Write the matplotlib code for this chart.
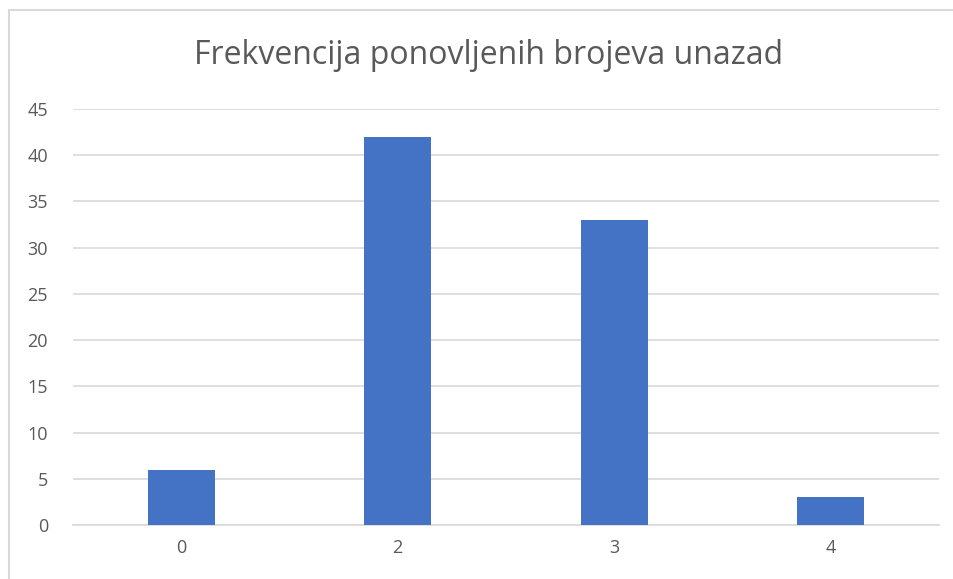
import matplotlib
matplotlib.use("Agg")
import matplotlib.pyplot as plt
from matplotlib.patches import Rectangle

categories = ["0", "2", "3", "4"]
values = [6, 42, 33, 3]
yticks = [0, 5, 10, 15, 20, 25, 30, 35, 40, 45]
title = "Frekvencija ponovljenih brojeva unazad"

plt.rcParams['font.family'] = ['Open Sans', 'DejaVu Sans']

W, H = 954, 579
fig = plt.figure(figsize=(W / 100, H / 100), dpi=100)
fig.patch.set_facecolor("white")

# chart border (left & top visible, right/bottom cut)
fig.patches.append(Rectangle((9 / W, -0.05), 1.2, 1 - 10 / H + 0.05,
                             transform=fig.transFigure, fill=False,
                             edgecolor="#d9d9d9", linewidth=1.5))

left, right = 73 / W, 939 / W
bottom, top = 1 - 525 / H, 1 - 109 / H
ax = fig.add_axes([left, bottom, right - left, top - bottom])

x = range(len(categories))
ax.bar(x, values, width=0.31, color="#4472C4", zorder=3)
ax.set_xlim(-0.5, len(categories) - 0.5)
ax.set_ylim(0, 45)
ax.set_yticks(yticks)
ax.set_xticks(list(x))
ax.set_xticklabels(categories)
ax.grid(axis="y", color="#d9d9d9", linewidth=1.2, zorder=0)
for s in ["top", "right", "left"]:
    ax.spines[s].set_visible(False)
ax.spines["bottom"].set_color("#d9d9d9")
ax.spines["bottom"].set_linewidth(1.2)
ax.tick_params(axis="both", length=0, colors="#595959", labelsize=13)
ax.tick_params(axis="y", pad=18)
ax.tick_params(axis="x", pad=10)

fig.text(489 / W, 1 - 55 / H, title, ha="center", va="center",
         fontsize=23, color="#595959")

fig.savefig("out.png", dpi=100)
